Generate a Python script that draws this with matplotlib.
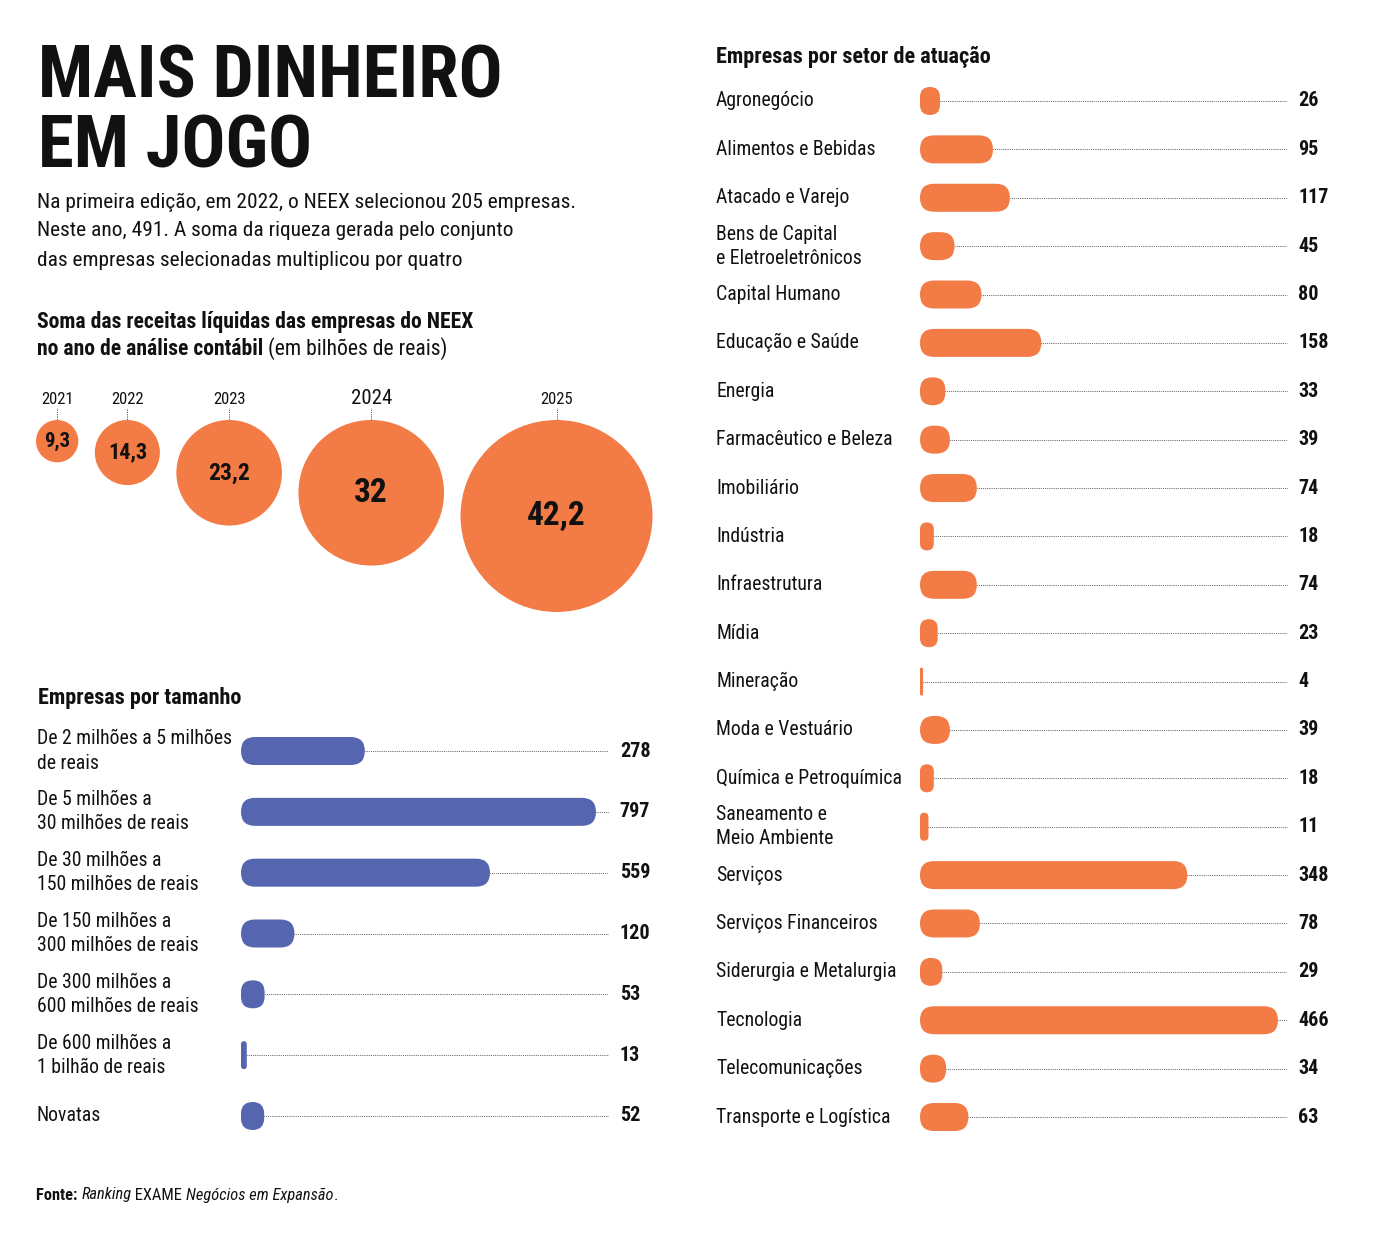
import matplotlib
matplotlib.use("Agg")
import matplotlib.pyplot as plt
from matplotlib import font_manager
from matplotlib.patches import FancyBboxPatch, Circle
from matplotlib import transforms

W, H = 1380, 1237
ORANGE = "#F37B45"
BLUE = "#5565B0"
INK = "#111111"

# dados
YEARS = ["2021", "2022", "2023", "2024", "2025"]
RECEITAS = [9.3, 14.3, 23.2, 32, 42.2]
RECEITAS_TXT = ["9,3", "14,3", "23,2", "32", "42,2"]

TAMANHO_LABELS = [
    "De 2 milhões a 5 milhões\nde reais",
    "De 5 milhões a\n30 milhões de reais",
    "De 30 milhões a\n150 milhões de reais",
    "De 150 milhões a\n300 milhões de reais",
    "De 300 milhões a\n600 milhões de reais",
    "De 600 milhões a\n1 bilhão de reais",
    "Novatas",
]
TAMANHO_VALS = [278, 797, 559, 120, 53, 13, 52]

SETOR_LABELS = [
    "Agronegócio", "Alimentos e Bebidas", "Atacado e Varejo",
    "Bens de Capital\ne Eletroeletrônicos", "Capital Humano",
    "Educação e Saúde", "Energia", "Farmacêutico e Beleza", "Imobiliário",
    "Indústria", "Infraestrutura", "Mídia", "Mineração", "Moda e Vestuário",
    "Química e Petroquímica", "Saneamento e\nMeio Ambiente", "Serviços",
    "Serviços Financeiros", "Siderurgia e Metalurgia", "Tecnologia",
    "Telecomunicações", "Transporte e Logística",
]
SETOR_VALS = [26, 95, 117, 45, 80, 158, 33, 39, 74, 18, 74, 23, 4, 39,
              18, 11, 348, 78, 29, 466, 34, 63]

names = {f.name for f in font_manager.fontManager.ttflist}


def pick(*cands):
    for c in cands:
        if c in names:
            return c
    return "DejaVu Sans"


NARROW = pick("Roboto Condensed", "Liberation Sans Narrow", "DejaVu Sans Condensed",
              "Open Sans Condensed", "Liberation Sans")
plt.rcParams["font.family"] = [NARROW, "DejaVu Sans"]

fig = plt.figure(figsize=(W / 100, H / 100), dpi=100)
fig.patch.set_facecolor("white")


def fx(x):
    return x / W


def fy(y):
    return 1 - y / H


def px_axes(x0, y0, x1, y1):
    ax = fig.add_axes([fx(x0), fy(y1), (x1 - x0) / W, (y1 - y0) / H])
    ax.set_axis_off()
    return ax


def ftext(x, y, s, size, **kw):
    kw.setdefault("color", INK)
    kw.setdefault("va", "center")
    return fig.text(fx(x), fy(y), s, size=size, **kw)


def rich(x, y, parts, size):
    r = fig.canvas.get_renderer()
    for s, props in parts:
        t = ftext(x, y, s, size, **props)
        x += t.get_window_extent(r).width


# titulo
ftext(38, 97, "MAIS DINHEIRO", 52.5, weight="heavy", va="baseline")
ftext(38, 168, "EM JOGO", 52.5, weight="heavy", va="baseline")

intro = ["Na primeira edição, em 2022, o NEEX selecionou 205 empresas.",
         "Neste ano, 491. A soma da riqueza gerada pelo conjunto",
         "das empresas selecionadas multiplicou por quatro"]
for i, line in enumerate(intro):
    ftext(37, 202 + 29 * i, line, 15.4)

ftext(37, 322, "Soma das receitas líquidas das empresas do NEEX", 15.6, weight="bold")
rich(37, 349, [("no ano de análise contábil", {"weight": "bold"}),
               (" (em bilhões de reais)", {})], 15.6)

# bolhas
axb = px_axes(0, 380, 690, 640)
axb.set_xlim(0, 690)
axb.set_ylim(640, 380)
k = 96 / 42.2
gap = 16.5
top = 420
x = 36
val_sizes = [15, 16, 17, 24, 24]
for i, v in enumerate(RECEITAS):
    r = v * k
    if i > 0:
        x += gap
    cx = x + r
    x = cx + r
    axb.add_patch(Circle((cx, top + r), r, color=ORANGE, lw=0))
    axb.text(cx, top + r, RECEITAS_TXT[i], ha="center", va="center",
             size=val_sizes[i], weight="heavy", color=INK)
    axb.plot([cx, cx], [409, top], ls=(0, (1.2, 1.2)), lw=0.7, color="#555")
    axb.text(cx, 399, YEARS[i], ha="center", va="center",
             size=15 if YEARS[i] == "2024" else 12, color=INK)


def capsule_bars(ax, values, labels, color, label_x, val_off, lab_size, val_size):
    x0, x1 = ax.get_xlim()
    bb = ax.get_position()
    n = len(values)
    px_x = bb.width * W / (x1 - x0)
    px_y = bb.height * H / n
    h = 28 / px_y
    for i, v in enumerate(values):
        w_px = v * px_x
        r_px = min(w_px, 28) / 2
        ax.add_patch(FancyBboxPatch(
            (0, i - h / 2), v, h,
            boxstyle=f"round,pad=0,rounding_size={r_px / px_x}",
            mutation_aspect=px_x / px_y, fc=color, ec="none", clip_on=False))
        ax.plot([v, x1], [i, i], ls=(0, (0.7, 1.1)), lw=0.75, color="#444",
                zorder=0, clip_on=False)
        ax.annotate(str(v), xy=(1, i), xycoords=ax.get_yaxis_transform(),
                    xytext=(val_off, 0), textcoords="offset points",
                    va="center", ha="left", size=val_size, weight="bold",
                    color=INK, annotation_clip=False)
    tr = transforms.blended_transform_factory(fig.transFigure, ax.transData)
    for i, lab in enumerate(labels):
        ax.text(fx(label_x), i, lab, transform=tr, va="center", ha="left",
                size=lab_size, color=INK, linespacing=1.35)
    ax.set_ylim(n - 0.5, -0.5)


# empresas por tamanho
ftext(38, 698, "Empresas por tamanho", 16, weight="bold")
axl = px_axes(241, 720.6, 608, 1146.4)
axl.set_xlim(0, 367 / 0.4454)
capsule_bars(axl, TAMANHO_VALS, TAMANHO_LABELS, BLUE, 37, 8.5, 14.2, 14.5)

# empresas por setor
ftext(716, 57, "Empresas por setor de atuação", 16, weight="bold")
axr = px_axes(920, 76.8, 1287, 1141.2)
axr.set_xlim(0, 367 / 0.7682)
capsule_bars(axr, SETOR_VALS, SETOR_LABELS, ORANGE, 716, 8, 14.2, 14.5)

rich(36, 1195, [("Fonte: ", {"weight": "bold"}), ("Ranking", {"style": "italic"}),
                (" EXAME ", {}), ("Negócios em Expansão", {"style": "italic"}),
                (".", {})], 11.8)

fig.savefig("out.png", dpi=100)
